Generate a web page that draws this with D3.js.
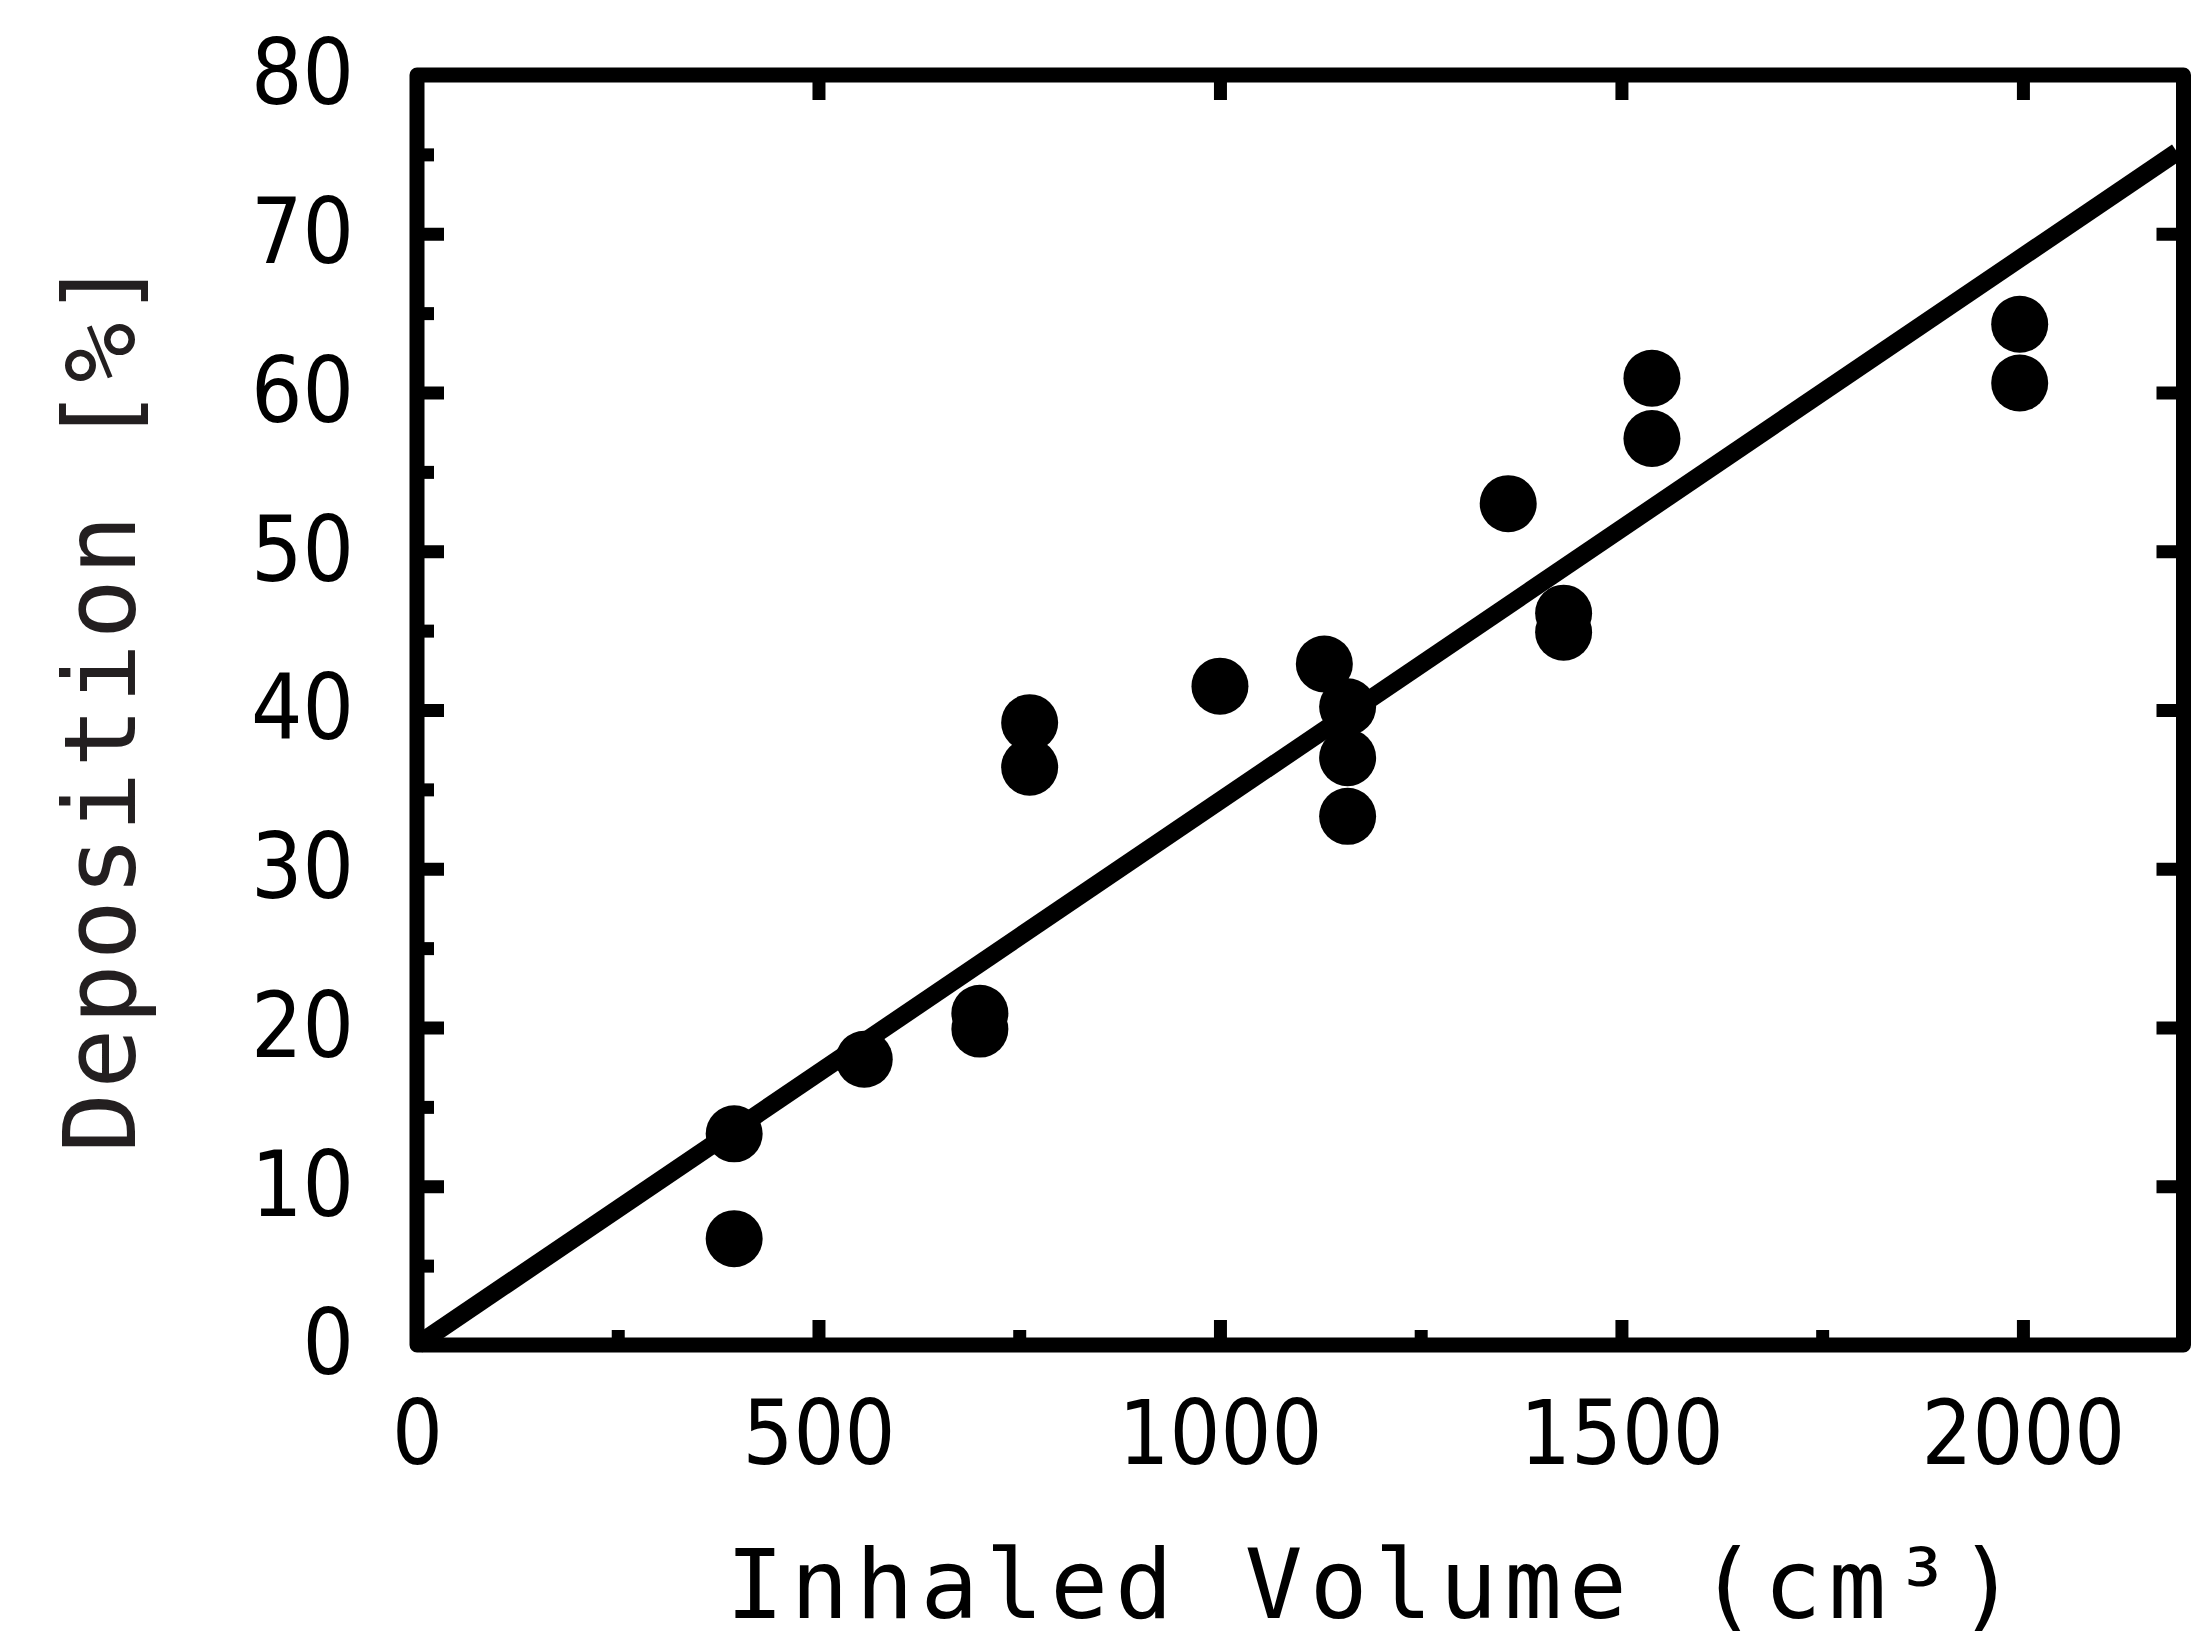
<!DOCTYPE html>
<html>
<head>
<meta charset="utf-8">
<script src="https://cdn.jsdelivr.net/npm/d3@7"></script>
<style>
  html, body { margin: 0; padding: 0; background: #ffffff; }
  svg { display: block; }
</style>
</head>
<body>
<script>
// ---- data ----
const volume     = [395, 395, 557, 701, 701, 763, 763, 1000, 1130, 1159, 1159, 1159, 1359, 1428, 1428, 1538, 1538, 1996, 1996];
const deposition = [13.3, 6.7, 18.0, 20.9, 19.9, 39.2, 36.4, 41.5, 42.9, 40.2, 37.0, 33.3, 53.0, 46.1, 44.9, 60.9, 57.1, 64.3, 60.6];

const fitX = [0, 2192];
const fitY = [0, 75.15];

const xMajorTicks = [0, 500, 1000, 1500, 2000];
const xMinorTicks = [250, 750, 1250, 1750];
const yMajorTicks = [0, 10, 20, 30, 40, 50, 60, 70, 80];
const yMinorTicks = [5, 15, 25, 35, 45, 55, 65, 75];
const xTickLabels = ["0", "500", "1000", "1500", "2000"];
const yTickLabels = ["0", "10", "20", "30", "40", "50", "60", "70", "80"];

const xTitle = "Inhaled Volume (cm³)";
const yTitle = "Deposition [%]";

// ---- layout ----
const W = 2196, H = 1645;
const svg = d3.select("body").append("svg").attr("width", W).attr("height", H);
svg.append("rect").attr("width", W).attr("height", H).attr("fill", "#ffffff");

const x = d3.scaleLinear().domain([0, 2200]).range([417, 2183.5]);
const y = d3.scaleLinear().domain([0, 80]).range([1345, 75]);

const AX = 15;      // frame stroke
const TW = 13;      // tick stroke
const numFont = "'DejaVu Sans Condensed', 'DejaVu Sans', sans-serif";

function styleAxis(g, showLabels) {
  g.select(".domain").remove();
  g.selectAll(".tick line").attr("stroke", "#000").attr("stroke-width", TW).attr("stroke-linecap", "butt");
  if (!showLabels) g.selectAll(".tick text").remove();
}

// left axis
const gL = svg.append("g").attr("transform", `translate(${x(0)},0)`)
  .call(d3.axisLeft(y).tickValues(yMajorTicks).tickSizeInner(-27).tickSizeOuter(0)
        .tickPadding(63).tickFormat((d, i) => yTickLabels[i]));
styleAxis(gL, true);
gL.selectAll(".tick text")
  .attr("fill", "#000")
  .style("font-family", numFont)
  .style("font-stretch", "condensed")
  .style("font-size", "90px");
gL.selectAll(".tick").filter(d => d === 0 || d === 80).select("line").remove();

const gLm = svg.append("g").attr("transform", `translate(${x(0)},0)`)
  .call(d3.axisLeft(y).tickValues(yMinorTicks).tickSizeInner(-17).tickSizeOuter(0).tickFormat(""));
styleAxis(gLm, false);

// right axis
const gR = svg.append("g").attr("transform", `translate(${x(2200)},0)`)
  .call(d3.axisRight(y).tickValues(yMajorTicks.filter(d => d > 0 && d < 80)).tickSizeInner(-27).tickSizeOuter(0).tickFormat(""));
styleAxis(gR, false);

// bottom axis
const gB = svg.append("g").attr("transform", `translate(0,${y(0)})`)
  .call(d3.axisBottom(x).tickValues(xMajorTicks).tickSizeInner(-25).tickSizeOuter(0)
        .tickPadding(56).tickFormat((d, i) => xTickLabels[i]));
styleAxis(gB, true);
gB.selectAll(".tick").filter(d => d === 0).select("line").remove();
gB.selectAll(".tick text")
  .attr("fill", "#000")
  .style("font-family", numFont)
  .style("font-stretch", "condensed")
  .style("font-size", "89px");

const gBm = svg.append("g").attr("transform", `translate(0,${y(0)})`)
  .call(d3.axisBottom(x).tickValues(xMinorTicks).tickSizeInner(-15).tickSizeOuter(0).tickFormat(""));
styleAxis(gBm, false);

// top axis
const gT = svg.append("g").attr("transform", `translate(0,${y(80)})`)
  .call(d3.axisTop(x).tickValues(xMajorTicks.filter(d => d > 0)).tickSizeInner(-25).tickSizeOuter(0).tickFormat(""));
styleAxis(gT, false);

// fit line
const fitData = fitX.map((v, i) => [v, fitY[i]]);
svg.append("path")
  .datum(fitData)
  .attr("d", d3.line().x(d => x(d[0])).y(d => y(d[1])))
  .attr("fill", "none")
  .attr("stroke", "#000")
  .attr("stroke-width", 18);

// points
svg.append("g").selectAll("circle")
  .data(volume.map((v, i) => [v, deposition[i]]))
  .join("circle")
  .attr("cx", d => x(d[0]))
  .attr("cy", d => y(d[1]))
  .attr("r", 28.5)
  .attr("fill", "#000");

// frame
svg.append("rect")
  .attr("x", x(0)).attr("y", y(80))
  .attr("width", x(2200) - x(0)).attr("height", y(0) - y(80))
  .attr("fill", "none").attr("stroke", "#000").attr("stroke-width", AX)
  .attr("stroke-linejoin", "round");

// titles
svg.append("text")
  .attr("x", 726).attr("y", 1618)
  .attr("textLength", 1290).attr("lengthAdjust", "spacing")
  .attr("fill", "#000")
  .style("font-family", "'DejaVu Sans Mono', monospace")
  .style("font-size", "96px")
  .text(xTitle);

svg.append("text")
  .attr("transform", "translate(135,1153) rotate(-90)")
  .attr("text-anchor", "start")
  .attr("textLength", 895).attr("lengthAdjust", "spacing")
  .attr("fill", "#231f20")
  .style("font-family", "'DejaVu Sans Mono', monospace")
  .style("font-size", "100px")
  .text(yTitle);
</script>
</body>
</html>
